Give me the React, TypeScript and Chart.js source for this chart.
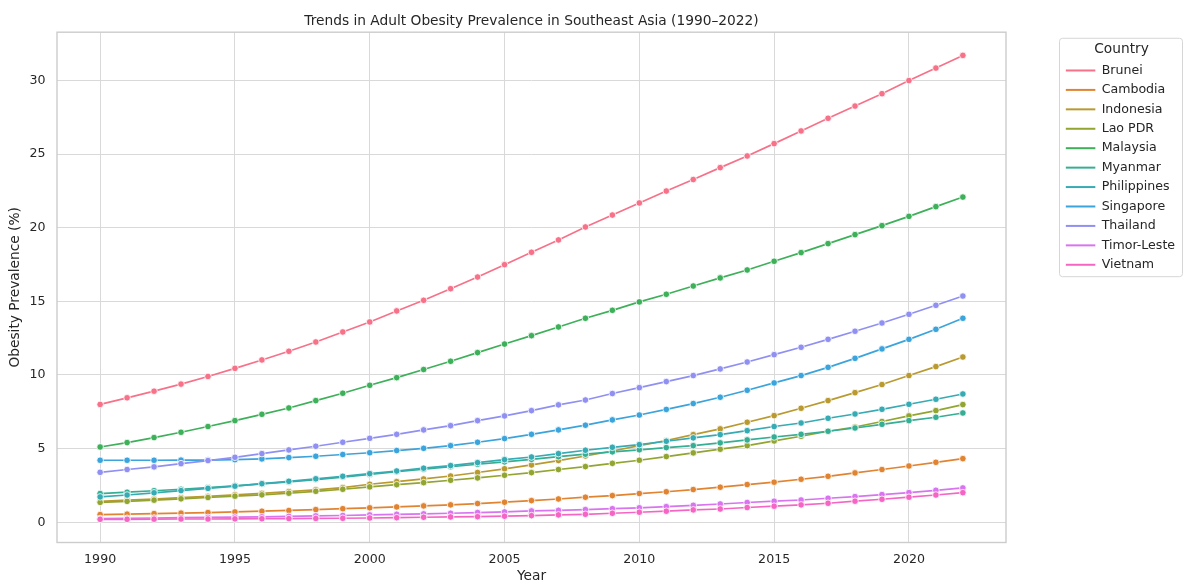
import { useEffect, useRef } from 'react';
import { Chart, registerables } from 'chart.js';

Chart.register(...registerables);

const years = [1990, 1991, 1992, 1993, 1994, 1995, 1996, 1997, 1998, 1999, 2000, 2001, 2002, 2003, 2004, 2005, 2006, 2007, 2008, 2009, 2010, 2011, 2012, 2013, 2014, 2015, 2016, 2017, 2018, 2019, 2020, 2021, 2022];

const countries = ['Brunei', 'Cambodia', 'Indonesia', 'Lao PDR', 'Malaysia', 'Myanmar', 'Philippines', 'Singapore', 'Thailand', 'Timor-Leste', 'Vietnam'];

const brunei = [8.0, 8.45, 8.9, 9.38, 9.9, 10.45, 11.02, 11.61, 12.24, 12.92, 13.6, 14.35, 15.07, 15.86, 16.65, 17.49, 18.33, 19.17, 20.05, 20.86, 21.68, 22.49, 23.27, 24.08, 24.87, 25.71, 26.57, 27.43, 28.26, 29.1, 29.99, 30.84, 31.7];
const cambodia = [0.52, 0.55, 0.59, 0.62, 0.66, 0.7, 0.75, 0.8, 0.86, 0.92, 0.98, 1.04, 1.11, 1.18, 1.27, 1.36, 1.47, 1.58, 1.7, 1.81, 1.95, 2.07, 2.22, 2.38, 2.56, 2.72, 2.92, 3.12, 3.35, 3.58, 3.82, 4.07, 4.32];
const indonesia = [1.42, 1.5, 1.58, 1.67, 1.76, 1.86, 1.96, 2.08, 2.2, 2.35, 2.58, 2.76, 2.94, 3.14, 3.38, 3.63, 3.89, 4.19, 4.5, 4.84, 5.2, 5.55, 5.95, 6.34, 6.79, 7.24, 7.74, 8.26, 8.8, 9.35, 9.96, 10.57, 11.22];
const laoPdr = [1.35, 1.42, 1.5, 1.59, 1.68, 1.77, 1.86, 1.97, 2.1, 2.24, 2.4, 2.55, 2.69, 2.85, 3.01, 3.19, 3.37, 3.58, 3.78, 4.0, 4.21, 4.46, 4.71, 4.96, 5.2, 5.52, 5.84, 6.18, 6.47, 6.84, 7.22, 7.58, 7.99];
const malaysia = [5.11, 5.41, 5.75, 6.11, 6.5, 6.9, 7.33, 7.76, 8.26, 8.76, 9.3, 9.82, 10.37, 10.93, 11.52, 12.1, 12.67, 13.26, 13.85, 14.39, 14.96, 15.48, 16.04, 16.59, 17.13, 17.72, 18.31, 18.92, 19.53, 20.14, 20.77, 21.43, 22.08];
const myanmar = [1.95, 2.04, 2.14, 2.24, 2.35, 2.47, 2.6, 2.74, 2.9, 3.07, 3.25, 3.43, 3.6, 3.77, 3.94, 4.1, 4.27, 4.45, 4.62, 4.78, 4.92, 5.07, 5.2, 5.39, 5.59, 5.79, 5.97, 6.18, 6.4, 6.65, 6.9, 7.13, 7.42];
const philippines = [1.72, 1.85, 2.0, 2.15, 2.3, 2.45, 2.62, 2.78, 2.95, 3.12, 3.3, 3.48, 3.67, 3.85, 4.05, 4.25, 4.43, 4.66, 4.89, 5.09, 5.27, 5.5, 5.73, 5.95, 6.22, 6.5, 6.74, 7.06, 7.35, 7.67, 8.01, 8.35, 8.71];
const singapore = [4.21, 4.21, 4.21, 4.22, 4.22, 4.25, 4.3, 4.39, 4.48, 4.6, 4.72, 4.87, 5.02, 5.2, 5.43, 5.68, 5.97, 6.27, 6.59, 6.95, 7.28, 7.66, 8.06, 8.49, 8.96, 9.46, 9.96, 10.52, 11.13, 11.77, 12.42, 13.1, 13.85];
const thailand = [3.39, 3.58, 3.76, 3.98, 4.19, 4.41, 4.66, 4.91, 5.16, 5.43, 5.7, 5.97, 6.27, 6.56, 6.9, 7.22, 7.58, 7.97, 8.3, 8.74, 9.14, 9.55, 9.96, 10.41, 10.88, 11.38, 11.88, 12.42, 12.97, 13.53, 14.12, 14.73, 15.36];
const timorLeste = [0.25, 0.27, 0.29, 0.31, 0.33, 0.35, 0.37, 0.4, 0.43, 0.46, 0.5, 0.54, 0.57, 0.61, 0.66, 0.7, 0.77, 0.81, 0.86, 0.92, 0.98, 1.06, 1.15, 1.24, 1.34, 1.43, 1.51, 1.63, 1.74, 1.88, 2.01, 2.17, 2.33];
const vietnam = [0.2, 0.2, 0.21, 0.22, 0.22, 0.23, 0.24, 0.25, 0.26, 0.27, 0.29, 0.31, 0.34, 0.36, 0.38, 0.41, 0.45, 0.5, 0.54, 0.61, 0.68, 0.75, 0.84, 0.9, 1.0, 1.09, 1.18, 1.29, 1.43, 1.56, 1.7, 1.85, 2.01];

const seriesValues = [brunei, cambodia, indonesia, laoPdr, malaysia, myanmar, philippines, singapore, thailand, timorLeste, vietnam];

const palette = ['#f77189', '#e18432', '#b99a31', '#92a531', '#3eb05a', '#36ae93', '#37abb4', '#3ba4dc', '#9090f2', '#d874f0', '#f566c4'];

const xTickValues = [1990, 1995, 2000, 2005, 2010, 2015, 2020];
const yTickValues = [0, 5, 10, 15, 20, 25, 30];

const TEXT = '#262626';

export default function App() {
  const ref = useRef<HTMLCanvasElement>(null);

  useEffect(() => {
    document.body.style.margin = '0';
    const canvas = ref.current;
    if (!canvas) return;
    Chart.defaults.font.family = "'DejaVu Sans', 'Liberation Sans', sans-serif";
    Chart.defaults.color = TEXT;

    const all = seriesValues.flat();
    const yMinData = Math.min(...all);
    const yMaxData = Math.max(...all);
    const yPadV = (yMaxData - yMinData) * 0.05;
    const xMinData = years[0];
    const xMaxData = years[years.length - 1];
    const xPadV = (xMaxData - xMinData) * 0.05;

    const n = countries.length;
    const datasets = countries.map((name, i) => ({
      label: name,
      data: years.map((yr, j) => ({ x: yr, y: seriesValues[i][j] })),
      borderColor: palette[i],
      backgroundColor: palette[i],
      borderWidth: 1.7,
      pointRadius: 3.3,
      pointBackgroundColor: palette[i],
      pointBorderColor: '#ffffff',
      pointBorderWidth: 0.8,
      tension: 0,
      yAxisID: 'y',
      order: n - 1 - i,
    }));

    const framePlugin = {
      id: 'frame',
      afterDraw(chart: any) {
        const { ctx, chartArea: a } = chart;
        ctx.save();
        ctx.strokeStyle = '#cccccc';
        ctx.lineWidth = 1.4;
        ctx.strokeRect(a.left, a.top, a.right - a.left, a.bottom - a.top);
        ctx.restore();
      },
    };

    const legendFramePlugin = {
      id: 'legendFrame',
      afterDraw(chart: any) {
        const lg = chart.legend;
        if (!lg || !lg.legendHitBoxes || !lg.legendHitBoxes.length) return;
        const hb = lg.legendHitBoxes;
        const first = hb[0];
        const last = hb[hb.length - 1];
        const left = lg.left + 0.5;
        const right = lg.right - 1.5;
        const top = first.top - 25.9;
        const bottom = last.top + last.height + 5.6;
        const r = 3;
        const ctx = chart.ctx;
        ctx.save();
        ctx.strokeStyle = '#d6d6d6';
        ctx.lineWidth = 1;
        ctx.beginPath();
        ctx.moveTo(left + r, top);
        ctx.lineTo(right - r, top);
        ctx.arcTo(right, top, right, top + r, r);
        ctx.lineTo(right, bottom - r);
        ctx.arcTo(right, bottom, right - r, bottom, r);
        ctx.lineTo(left + r, bottom);
        ctx.arcTo(left, bottom, left, bottom - r, r);
        ctx.lineTo(left, top + r);
        ctx.arcTo(left, top, left + r, top, r);
        ctx.closePath();
        ctx.stroke();
        ctx.restore();
      },
    };

    const chart = new Chart(canvas, {
      type: 'line',
      data: { datasets: datasets as any },
      plugins: [framePlugin, legendFramePlugin],
      options: {
        responsive: false,
        animation: false,
        devicePixelRatio: 1,
        events: [],
        layout: { padding: 0 },
        scales: {
          x: {
            type: 'linear',
            min: xMinData - xPadV,
            max: xMaxData + xPadV,
            afterFit: (s: any) => { s.height = 42.5; },
            afterBuildTicks: (s: any) => { s.ticks = xTickValues.map((v) => ({ value: v })); },
            ticks: {
              stepSize: 5,
              includeBounds: false,
              padding: 9.7,
              font: { size: 12.6 },
              color: TEXT,
              callback: (v: any) => String(v),
            },
            grid: { color: '#d9d9d9', lineWidth: 1, drawTicks: false },
            border: { display: false },
            title: {
              display: true,
              text: 'Year',
              font: { size: 13.75 },
              color: TEXT,
              padding: { top: 0, bottom: 0 },
            },
          },
          y: {
            type: 'linear',
            position: 'left',
            min: yMinData - yPadV,
            max: yMaxData + yPadV,
            afterFit: (s: any) => { s.width = 57; },
            afterBuildTicks: (s: any) => { s.ticks = yTickValues.map((v) => ({ value: v })); },
            ticks: {
              stepSize: 5,
              includeBounds: false,
              padding: 11.5,
              font: { size: 12.6 },
              color: TEXT,
              callback: (v: any) => String(v),
            },
            grid: { color: '#d9d9d9', lineWidth: 1, drawTicks: false },
            border: { display: false },
            title: {
              display: true,
              text: 'Obesity Prevalence (%)',
              font: { size: 13.75 },
              color: TEXT,
              padding: { top: 6.75, bottom: 0 },
            },
          },
          yPad: {
            type: 'linear',
            position: 'right',
            display: true,
            afterFit: (s: any) => { s.width = 53; },
            grid: { display: false, drawTicks: false },
            border: { display: false },
            ticks: { display: false },
          },
        },
        plugins: {
          tooltip: { enabled: false },
          title: {
            display: true,
            text: 'Trends in Adult Obesity Prevalence in Southeast Asia (1990–2022)',
            fullSize: false,
            font: { size: 13.75, weight: 'normal' },
            color: TEXT,
            padding: { top: 12.75, bottom: 2.95 },
          },
          legend: {
            display: true,
            position: 'right',
            align: 'start',
            maxWidth: 125,
            title: {
              display: true,
              text: 'Country',
              font: { size: 13.75, lineHeight: 1 },
              color: TEXT,
              padding: { top: 42.1, bottom: 1.5 },
            },
            labels: {
              boxWidth: 29.5,
              boxHeight: 2,
              padding: 6.83,
              font: { size: 12.6 },
              color: TEXT,
              generateLabels: (c: any) =>
                c.data.datasets.map((ds: any, i: number) => ({
                  text: ds.label,
                  fillStyle: ds.borderColor,
                  strokeStyle: ds.borderColor,
                  lineWidth: 0,
                  hidden: false,
                  datasetIndex: i,
                  fontColor: TEXT,
                })),
            },
          },
        },
      } as any,
    });

    return () => chart.destroy();
  }, []);

  return (
    <div style={{ width: 1184, height: 585, position: 'relative', background: '#ffffff' }}>
      <canvas ref={ref} width={1184} height={585} style={{ display: 'block', width: 1184, height: 585 }} />
    </div>
  );
}
